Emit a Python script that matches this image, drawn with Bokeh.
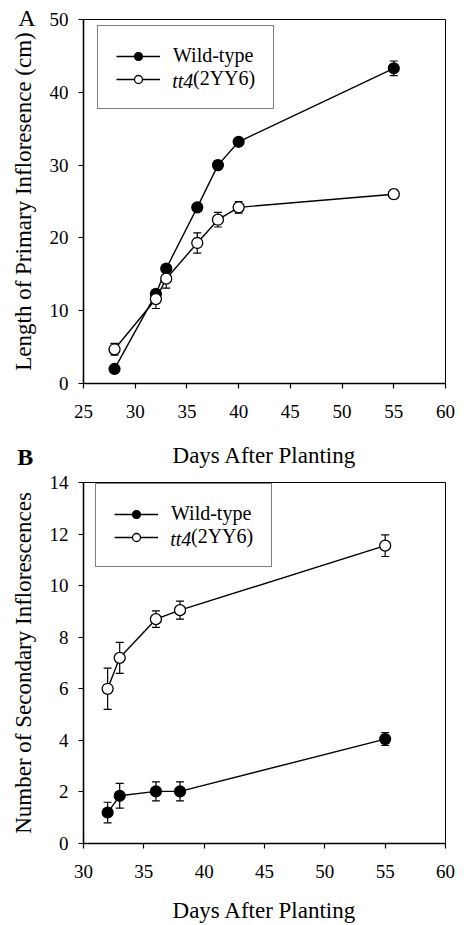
from bokeh.plotting import figure
from bokeh.models import (ColumnDataSource, Whisker, TeeHead, Legend, LegendItem,
                          Label, FixedTicker, Range1d)
from bokeh.layouts import column
from bokeh.embed import file_html
from bokeh.resources import INLINE

# ---- Panel A: length of primary inflorescence (cm)
days_a = [28, 32, 33, 36, 38, 40, 55]
wt_len = [2.0, 12.3, 15.8, 24.2, 30.0, 33.2, 43.3]
wt_len_err = [0.3, 0.4, 0.4, 0.5, 0.6, 0.4, 1.0]
tt4_len = [4.7, 11.6, 14.4, 19.3, 22.5, 24.2, 26.0]
tt4_len_err = [0.8, 1.3, 1.3, 1.4, 1.0, 0.8, 0.6]
xticks_a = [25, 30, 35, 40, 45, 50, 55, 60]
yticks_a = [0, 10, 20, 30, 40, 50]

# ---- Panel B: number of secondary inflorescences
days_b = [32, 33, 36, 38, 55]
wt_sec = [1.2, 1.85, 2.02, 2.02, 4.05]
wt_sec_err = [0.4, 0.48, 0.37, 0.37, 0.25]
tt4_sec = [6.0, 7.2, 8.7, 9.05, 11.55]
tt4_sec_err = [0.8, 0.6, 0.32, 0.35, 0.42]
xticks_b = [30, 35, 40, 45, 50, 55, 60]
yticks_b = [0, 2, 4, 6, 8, 10, 12, 14]

# legend: "tt4" is italic, "(2YY6)" upright
series_names = ["Wild-type", "\u00a0\u00a0\u00a0\u00a0(2YY6)"]
mutant_name = "tt4"
FONT = "Liberation Serif"


def make_panel(days, wt, wt_err, tt, tt_err, xr, yr, xticks, yticks, ylabel,
               height, bl, br, bt, bb, leg_xy, xlab_standoff, mut_xy):
    p = figure(width=464, height=height, output_backend="svg", toolbar_location=None,
               x_range=Range1d(*xr), y_range=Range1d(*yr),
               min_border_left=bl, min_border_right=br,
               min_border_top=bt, min_border_bottom=bb)
    p.xgrid.visible = False
    p.ygrid.visible = False
    p.outline_line_color = "black"
    p.outline_line_width = 1
    p.background_fill_color = "white"
    p.border_fill_color = None

    p.xaxis.ticker = FixedTicker(ticks=xticks)
    p.yaxis.ticker = FixedTicker(ticks=yticks)
    p.xaxis.axis_label = "Days After Planting"
    p.yaxis.axis_label = ylabel
    for ax in (p.xaxis[0], p.yaxis[0]):
        ax.axis_line_width = 1.6
        ax.axis_line_color = "black"
        ax.major_tick_out = 5
        ax.major_tick_in = 0
        ax.major_tick_line_width = 1.2
        ax.minor_tick_line_color = None
        ax.major_label_text_font = FONT
        ax.major_label_text_font_size = "19px"
        ax.major_label_text_color = "black"
        ax.axis_label_text_font = FONT
        ax.axis_label_text_font_size = "23px"
        ax.axis_label_text_font_style = "normal"
        ax.axis_label_text_color = "black"
    p.xaxis.major_label_standoff = 16
    p.yaxis.major_label_standoff = 10
    p.xaxis.axis_label_standoff = xlab_standoff
    p.yaxis.axis_label_standoff = 11

    src_wt = ColumnDataSource(dict(x=days, y=wt,
                                   lo=[v - e for v, e in zip(wt, wt_err)],
                                   hi=[v + e for v, e in zip(wt, wt_err)]))
    src_tt = ColumnDataSource(dict(x=days, y=tt,
                                   lo=[v - e for v, e in zip(tt, tt_err)],
                                   hi=[v + e for v, e in zip(tt, tt_err)]))
    for src in (src_wt, src_tt):
        w = Whisker(base="x", lower="lo", upper="hi", source=src,
                    line_color="black", line_width=1.2,
                    upper_head=TeeHead(size=8, line_color="black", line_width=1.2),
                    lower_head=TeeHead(size=8, line_color="black", line_width=1.2))
        p.add_layout(w)

    l_wt = p.line("x", "y", source=src_wt, line_color="black", line_width=1.4)
    l_tt = p.line("x", "y", source=src_tt, line_color="black", line_width=1.4)
    s_wt = p.scatter("x", "y", source=src_wt, size=11, fill_color="black",
                     line_color="black", line_width=1.2)
    s_tt = p.scatter("x", "y", source=src_tt, size=11, fill_color="white",
                     line_color="black", line_width=1.3)

    leg = Legend(items=[LegendItem(label=series_names[0], renderers=[l_wt, s_wt]),
                        LegendItem(label=series_names[1], renderers=[l_tt, s_tt])],
                 location=leg_xy, glyph_width=44, glyph_height=20, label_height=20,
                 label_standoff=13, padding=18, spacing=0, margin=0,
                 border_line_color="black", border_line_width=1.5,
                 label_text_font=FONT, label_text_font_size="20px",
                 label_text_line_height=1.0,
                 label_text_color="black", background_fill_color="white",
                 background_fill_alpha=0)
    p.add_layout(leg)
    p.add_layout(Label(x=mut_xy[0], y=mut_xy[1], text=mutant_name, text_font=FONT,
                       text_font_size="20px", text_font_style="italic",
                       text_color="black", text_align="left", text_baseline="middle"))
    return p


pA = make_panel(days_a, wt_len, wt_len_err, tt4_len, tt4_len_err,
                (25, 60), (0, 50), xticks_a, yticks_a,
                "Length of Primary Infloresence (cm)",
                470, 83, 18, 19, 87, (14, 274), 22, (33.58, 41.55))
pA.add_layout(Label(x=18.7, y=50.14, text="A", text_font=FONT, text_font_size="24px",
                    text_color="black", text_align="left",
                    text_baseline="middle"), "right")

pB = make_panel(days_b, wt_sec, wt_sec_err, tt4_sec, tt4_sec_err,
                (30, 60), (0, 14), xticks_b, yticks_b,
                "Number of Secondary Inflorescences",
                485, 82, 19, 42, 82, (12, 276), 17, (37.19, 11.81))
pB.margin = (-30, 0, 0, 0)
pB.add_layout(Label(x=24.5, y=14.99, text="B", text_font=FONT, text_font_size="24px",
                    text_font_style="bold", text_color="black", text_align="left",
                    text_baseline="middle"), "right")

layout = column(pA, pB)
open("out.html", "w").write(file_html(layout, INLINE))
